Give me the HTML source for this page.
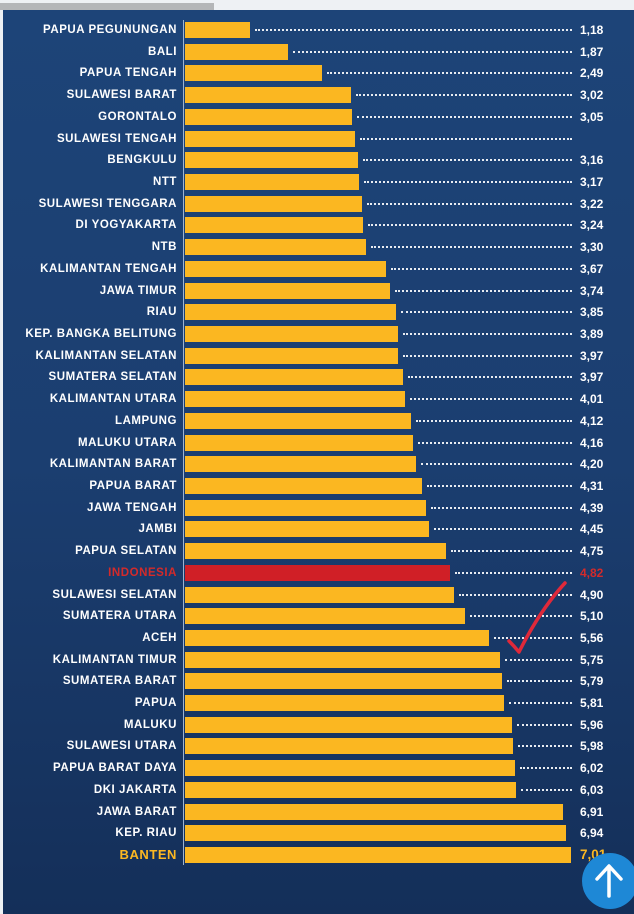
<!DOCTYPE html>
<html><head><meta charset="utf-8"><style>
*{margin:0;padding:0;box-sizing:border-box}
body{width:634px;height:914px;background:#eef1f4;position:relative;overflow:hidden;font-family:"Liberation Sans",sans-serif}
#top{position:absolute;left:0;top:3px;width:214px;height:7px;background:#b4b6b8}
#panel{position:absolute;left:3px;top:10px;width:631px;height:904px;background:linear-gradient(180deg,#1d4478 0%,#1b3e70 50%,#142f59 100%)}
#axis{position:absolute;left:183px;top:20px;width:1px;height:845px;background:#9fb3cf}
.r{position:absolute;left:0;width:634px;height:16px}
.l{position:absolute;left:0;width:177px;text-align:right;color:#fff;font-weight:bold;font-size:11.5px;line-height:16px;letter-spacing:0.55px;white-space:nowrap}
.b{position:absolute;left:185px;top:0;height:16px;background:#fbb721}
.d{position:absolute;right:62px;top:7px;height:2px;border-bottom:2px dotted #e8ecf2}
.v{position:absolute;left:580px;color:#fff;font-weight:bold;font-size:12px;line-height:16px}
#btn{position:absolute;left:582px;top:853px;width:56px;height:56px;border-radius:50%;background:#1e88d6}
</style></head><body>
<div id="top"></div><div id="panel"></div><div id="axis"></div>

<div class="r" style="top:22px"><div class="l">PAPUA PEGUNUNGAN</div><div class="b" style="width:65px"></div><div class="d" style="left:255px"></div><div class="v">1,18</div></div>
<div class="r" style="top:43.7px"><div class="l">BALI</div><div class="b" style="width:103px"></div><div class="d" style="left:293px"></div><div class="v">1,87</div></div>
<div class="r" style="top:65.4px"><div class="l">PAPUA TENGAH</div><div class="b" style="width:137px"></div><div class="d" style="left:327px"></div><div class="v">2,49</div></div>
<div class="r" style="top:87.1px"><div class="l">SULAWESI BARAT</div><div class="b" style="width:166px"></div><div class="d" style="left:356px"></div><div class="v">3,02</div></div>
<div class="r" style="top:108.8px"><div class="l">GORONTALO</div><div class="b" style="width:167px"></div><div class="d" style="left:357px"></div><div class="v">3,05</div></div>
<div class="r" style="top:130.6px"><div class="l">SULAWESI TENGAH</div><div class="b" style="width:170px"></div><div class="d" style="left:360px"></div></div>
<div class="r" style="top:152.3px"><div class="l">BENGKULU</div><div class="b" style="width:173px"></div><div class="d" style="left:363px"></div><div class="v">3,16</div></div>
<div class="r" style="top:174px"><div class="l">NTT</div><div class="b" style="width:174px"></div><div class="d" style="left:364px"></div><div class="v">3,17</div></div>
<div class="r" style="top:195.7px"><div class="l">SULAWESI TENGGARA</div><div class="b" style="width:177px"></div><div class="d" style="left:367px"></div><div class="v">3,22</div></div>
<div class="r" style="top:217.4px"><div class="l">DI YOGYAKARTA</div><div class="b" style="width:178px"></div><div class="d" style="left:368px"></div><div class="v">3,24</div></div>
<div class="r" style="top:239.1px"><div class="l">NTB</div><div class="b" style="width:181px"></div><div class="d" style="left:371px"></div><div class="v">3,30</div></div>
<div class="r" style="top:260.8px"><div class="l">KALIMANTAN TENGAH</div><div class="b" style="width:201px"></div><div class="d" style="left:391px"></div><div class="v">3,67</div></div>
<div class="r" style="top:282.5px"><div class="l">JAWA TIMUR</div><div class="b" style="width:205px"></div><div class="d" style="left:395px"></div><div class="v">3,74</div></div>
<div class="r" style="top:304.2px"><div class="l">RIAU</div><div class="b" style="width:211px"></div><div class="d" style="left:401px"></div><div class="v">3,85</div></div>
<div class="r" style="top:326px"><div class="l">KEP. BANGKA BELITUNG</div><div class="b" style="width:213px"></div><div class="d" style="left:403px"></div><div class="v">3,89</div></div>
<div class="r" style="top:347.7px"><div class="l">KALIMANTAN SELATAN</div><div class="b" style="width:213px"></div><div class="d" style="left:403px"></div><div class="v">3,97</div></div>
<div class="r" style="top:369.4px"><div class="l">SUMATERA SELATAN</div><div class="b" style="width:218px"></div><div class="d" style="left:408px"></div><div class="v">3,97</div></div>
<div class="r" style="top:391.1px"><div class="l">KALIMANTAN UTARA</div><div class="b" style="width:220px"></div><div class="d" style="left:410px"></div><div class="v">4,01</div></div>
<div class="r" style="top:412.8px"><div class="l">LAMPUNG</div><div class="b" style="width:226px"></div><div class="d" style="left:416px"></div><div class="v">4,12</div></div>
<div class="r" style="top:434.5px"><div class="l">MALUKU UTARA</div><div class="b" style="width:228px"></div><div class="d" style="left:418px"></div><div class="v">4,16</div></div>
<div class="r" style="top:456.2px"><div class="l">KALIMANTAN BARAT</div><div class="b" style="width:231px"></div><div class="d" style="left:421px"></div><div class="v">4,20</div></div>
<div class="r" style="top:477.9px"><div class="l">PAPUA BARAT</div><div class="b" style="width:237px"></div><div class="d" style="left:427px"></div><div class="v">4,31</div></div>
<div class="r" style="top:499.6px"><div class="l">JAWA TENGAH</div><div class="b" style="width:241px"></div><div class="d" style="left:431px"></div><div class="v">4,39</div></div>
<div class="r" style="top:521.3px"><div class="l">JAMBI</div><div class="b" style="width:244px"></div><div class="d" style="left:434px"></div><div class="v">4,45</div></div>
<div class="r" style="top:543px"><div class="l">PAPUA SELATAN</div><div class="b" style="width:261px"></div><div class="d" style="left:451px"></div><div class="v">4,75</div></div>
<div class="r" style="top:564.8px"><div class="l" style="color:#d42a2a">INDONESIA</div><div class="b" style="width:265px;background:#d01f26"></div><div class="d" style="left:455px"></div><div class="v" style="color:#d42a2a">4,82</div></div>
<div class="r" style="top:586.5px"><div class="l">SULAWESI SELATAN</div><div class="b" style="width:269px"></div><div class="d" style="left:459px"></div><div class="v">4,90</div></div>
<div class="r" style="top:608.2px"><div class="l">SUMATERA UTARA</div><div class="b" style="width:280px"></div><div class="d" style="left:470px"></div><div class="v">5,10</div></div>
<div class="r" style="top:629.9px"><div class="l">ACEH</div><div class="b" style="width:304px"></div><div class="d" style="left:494px"></div><div class="v">5,56</div></div>
<div class="r" style="top:651.6px"><div class="l">KALIMANTAN TIMUR</div><div class="b" style="width:315px"></div><div class="d" style="left:505px"></div><div class="v">5,75</div></div>
<div class="r" style="top:673.3px"><div class="l">SUMATERA BARAT</div><div class="b" style="width:317px"></div><div class="d" style="left:507px"></div><div class="v">5,79</div></div>
<div class="r" style="top:695px"><div class="l">PAPUA</div><div class="b" style="width:319px"></div><div class="d" style="left:509px"></div><div class="v">5,81</div></div>
<div class="r" style="top:716.7px"><div class="l">MALUKU</div><div class="b" style="width:327px"></div><div class="d" style="left:517px"></div><div class="v">5,96</div></div>
<div class="r" style="top:738.4px"><div class="l">SULAWESI UTARA</div><div class="b" style="width:328px"></div><div class="d" style="left:518px"></div><div class="v">5,98</div></div>
<div class="r" style="top:760.2px"><div class="l">PAPUA BARAT DAYA</div><div class="b" style="width:330px"></div><div class="d" style="left:520px"></div><div class="v">6,02</div></div>
<div class="r" style="top:781.9px"><div class="l">DKI JAKARTA</div><div class="b" style="width:331px"></div><div class="d" style="left:521px"></div><div class="v">6,03</div></div>
<div class="r" style="top:803.6px"><div class="l">JAWA BARAT</div><div class="b" style="width:378px"></div><div class="v">6,91</div></div>
<div class="r" style="top:825.3px"><div class="l">KEP. RIAU</div><div class="b" style="width:381px"></div><div class="v">6,94</div></div>
<div class="r" style="top:847px"><div class="l" style="color:#fbb721;font-size:13px">BANTEN</div><div class="b" style="width:386px"></div><div class="v" style="color:#fbb721;font-size:13.5px">7,01</div></div>

<div id="btn"></div>
<svg width="634" height="914" style="position:absolute;left:0;top:0">
<path d="M509 641 Q514 646 519 652 Q540 610 565 583" stroke="#e0293a" stroke-width="3.5" fill="none" stroke-linecap="round" stroke-linejoin="round"/>
<path d="M609 896 V867 M597 879 L609 866 L621 879" stroke="#fff" stroke-width="3.5" fill="none" stroke-linecap="round" stroke-linejoin="round"/>
</svg>
</body></html>
